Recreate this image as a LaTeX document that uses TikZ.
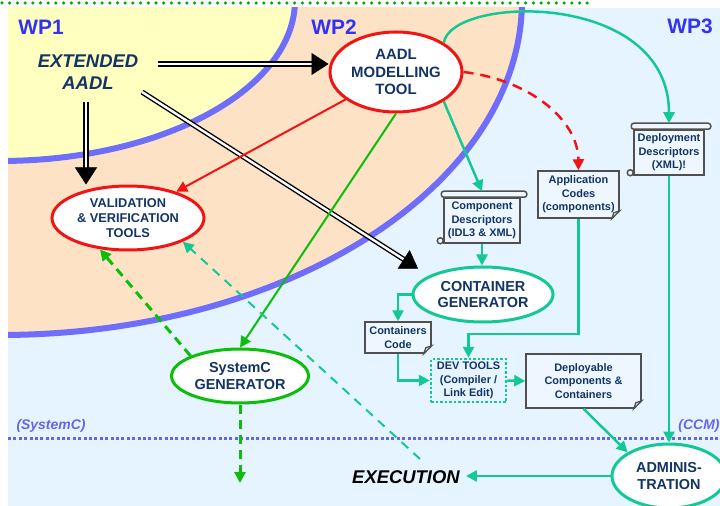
\documentclass[tikz,border=0pt]{standalone}
\usepackage{fontspec}
\setmainfont{Liberation Sans}
\usetikzlibrary{arrows.meta,calc,shapes.geometric}

\definecolor{navy}{RGB}{18,52,102}
\definecolor{wpblue}{RGB}{50,50,240}
\definecolor{ringblue}{RGB}{110,110,250}
\definecolor{dotblue}{RGB}{100,100,240}
\definecolor{skyfill}{RGB}{230,244,255}
\definecolor{peachfill}{RGB}{253,226,198}
\definecolor{lemonfill}{RGB}{255,255,192}
\definecolor{redline}{RGB}{240,20,20}
\definecolor{tealline}{RGB}{20,200,150}
\definecolor{greenline}{RGB}{10,190,10}
\definecolor{dotgreen}{RGB}{0,170,0}
\definecolor{docgray}{RGB}{80,80,80}
\definecolor{docfill}{RGB}{238,247,255}

\tikzset{
	lbl/.style={text=navy, align=center, inner sep=0pt},
	wplbl/.style={text=wpblue, inner sep=0pt, font=\bfseries\fontsize{21}{24}\selectfont},
	techlbl/.style={text=dotblue, inner sep=0pt, font=\bfseries\itshape\fontsize{14}{16}\selectfont},
	bigell/.style={ellipse, line width=3bp, fill=white, lbl},
	docbox/.style={rectangle, draw=docgray, line width=1.5bp, fill=docfill, lbl, font=\bfseries\fontsize{11}{13.5}\selectfont},
	dblline/.style={draw=black, double=white, double distance=2.4bp, line width=1.4bp, shorten >=15bp},
	bigtip/.style={draw=black, line width=0.5bp, -{Triangle[length=17bp,width=22bp]}},
	redarrow/.style={draw=redline, line width=2bp, -{Triangle[length=11bp,width=11bp]}},
	tealarrow/.style={draw=tealline, line width=2.5bp, -{Triangle[length=11bp,width=11bp]}},
	greenarrow/.style={draw=greenline, line width=2bp, -{Triangle[length=11bp,width=11bp]}},
}

% roll on top of a scroll and curl at its bottom left
\def\scrollroll(#1){
	\draw[docgray, line width=1.5bp, fill=docfill, rounded corners=2.5bp] ($(#1.north west)+(-2,-6)$) rectangle ($(#1.north east)+(6,0)$);
	\draw[docgray, line width=1.5bp, fill=docfill] ($(#1.south west)+(-3,-3)$) circle (3bp);
}
% folded corner at the bottom right
\def\foldcorner(#1){
	\fill[skyfill] ($(#1.south east)+(-8,1)$) -- ($(#1.south east)+(1,-8)$) -- ($(#1.south east)+(1,1)$) -- cycle;
	\draw[docgray, line width=1.2bp, fill=docfill!80!gray] ($(#1.south east)+(-8,0)$) -- ($(#1.south east)+(0,-8)$) -- ($(#1.south east)+(-6,-6)$) -- cycle;
}
% double shaft with a big black head
\def\fatarrow(#1)(#2){
	\draw[dblline] (#1) -- (#2);
	\draw[bigtip] ($(#2)!16bp!(#1)$) -- (#2);
}

\begin{document}
\begin{tikzpicture}[x=1bp,y=-1bp]
		%%%%% START %%%%%
		\useasboundingbox (0,0) rectangle (720,506);
		\fill[skyfill] (8,8) rectangle (720,506);
		\begin{scope}
			\clip (8,8) rectangle (720,506);
			\fill[peachfill] (0,0) ellipse [x radius=522, y radius=335];
			\draw[ringblue, line width=6bp] (0,0) ellipse [x radius=522, y radius=335];
			\fill[lemonfill] (0,0) ellipse [x radius=295, y radius=161];
			\draw[ringblue, line width=6bp] (0,0) ellipse [x radius=295, y radius=161];
		\end{scope}
		\draw[dotgreen, line width=3.5bp, line cap=round, dash pattern=on 0bp off 7.7bp] (2,3) -- (588,3);
		\draw[dotblue, line width=3bp, dash pattern=on 3bp off 2.4bp] (8,438) -- (720,438);
		
		\node[wplbl] (wpone) at (41,27) {WP1};
		\node[wplbl] (wptwo) at (334,27) {WP2};
		\node[wplbl] (wpthree) at (690,26) {WP3};
		\node[techlbl] (systemc) at (51,426) {(SystemC)};
		\node[techlbl] (ccm) at (699,426) {(CCM)};
		
		\node[lbl, font=\bfseries\itshape\fontsize{18.5}{22}\selectfont] (ext) at (88,72) {EXTENDED\\AADL};
		\node[bigell, draw=redline, font=\bfseries\fontsize{15}{18}\selectfont, minimum width=132bp, minimum height=80bp] (model) at (396,72) {AADL\\MODELLING\\TOOL};
		\node[bigell, draw=redline, font=\bfseries\fontsize{12.8}{15}\selectfont, minimum width=152bp, minimum height=64bp] (vv) at (128,218) {VALIDATION\\\& VERIFICATION\\TOOLS};
		\node[bigell, draw=tealline, font=\bfseries\fontsize{14.5}{17}\selectfont, minimum width=140bp, minimum height=55bp] (gen) at (483,294.5) {CONTAINER\\GENERATOR};
		\node[bigell, draw=greenline, font=\bfseries\fontsize{14.5}{18}\selectfont, minimum width=137bp, minimum height=54bp] (sysc) at (240,376) {SystemC\\GENERATOR};
		\node[bigell, draw=tealline, font=\bfseries\fontsize{14.5}{16.5}\selectfont, minimum width=114bp, minimum height=64bp] (admin) at (669,476) {ADMINIS-\\TRATION};
		\node[font=\bfseries\itshape\fontsize{18.5}{22}\selectfont, inner sep=0pt] (exec) at (406,477) {EXECUTION};
		\coordinate (simout) at (240,483);
		
		\node[docbox, minimum width=76bp, minimum height=45bp] (comp) at (482,220.5) {Component\\Descriptors\\(IDL3 \& XML)};
		\scrollroll(comp)
		\node[docbox, minimum width=70bp, minimum height=45bp] (deploy) at (669,152.5) {Deployment\\Descriptors\\(XML)!};
		\scrollroll(deploy)
		\node[docbox, minimum width=81bp, minimum height=47bp] (app) at (578.5,194.5) {Application\\Codes\\(components)};
		\foldcorner(app)
		\node[docbox, minimum width=66bp, minimum height=31bp] (ccode) at (398,337.5) {Containers\\Code};
		\foldcorner(ccode)
		\node[docbox, minimum width=115bp, minimum height=54bp] (depl) at (583.5,381) {Deployable\\Components \&\\Containers};
		\foldcorner(depl)
		\node[docbox, draw=tealline, line width=2.5bp, dash pattern=on 2.5bp off 2bp, fill=none, minimum width=75bp, minimum height=43bp] (dev) at (468.5,380.5) {DEV TOOLS\\(Compiler /\\Link Edit)};
		
		% ends of the fat arrows
		\coordinate (extright) at ([shift={(20,-8)}]ext.east);
		\coordinate (modelleft) at ([shift={(0,-8)}]model.west);
		\coordinate (extbottom) at ([shift={(-2,13)}]ext.south);
		\coordinate (vvtop) at ([shift={(-42,0)}]vv.north);
		\coordinate (extdiag) at ([shift={(54,20)}]ext.center);
		\coordinate (gencorner) at ([shift={(-65,-26)}]gen.center);
		\fatarrow(extright)(modelleft)
		\fatarrow(extbottom)(vvtop)
		\fatarrow(extdiag)(gencorner)
		
		\draw[redarrow] (model) -- (vv);
		\draw[redarrow, line width=2.5bp, dash pattern=on 10bp off 7bp] (model.east) .. controls (530,80) and (578,120) .. (app.north);
		\draw[tealarrow] (model.north east) .. controls (452,-5) and (669,-10) .. ([shift={(0,-6)}]deploy.north);
		\draw[tealarrow] (model.south east) -- ([shift={(0,-6)}]comp.north);
		\draw[greenarrow] (model.south) -- (sysc.north);
		
		\draw[tealarrow] (comp.south) -- (comp.south |- gen.north);
		\draw[tealarrow] (gen.west) -| (ccode.north);
		\draw[tealarrow] (ccode.south) |- (dev.west);
		\draw[tealarrow] (app.south) -- ++(0,115) -| (dev.north);
		\draw[tealarrow] (dev.east) -- (depl.west);
		\draw[tealarrow] (depl.south) -- (admin.north west);
		\draw[tealarrow] (deploy.south) -- (deploy.south |- admin.north);
		\draw[tealarrow, shorten >=6bp] (admin.west) -- (admin.west -| exec.east);
		
		\draw[tealarrow, line width=2bp, dash pattern=on 9bp off 7bp] ([shift={(14,-18)}]exec.center) -- (vv.south east);
		\draw[greenarrow, line width=3bp, dash pattern=on 9bp off 6bp] (sysc.north west) -- ([shift={(-28,-2)}]vv.south);
		\draw[greenarrow, line width=3bp, dash pattern=on 9bp off 6bp] (sysc.south) -- (simout);
		%%%%% END %%%%%
\end{tikzpicture}
\end{document}
